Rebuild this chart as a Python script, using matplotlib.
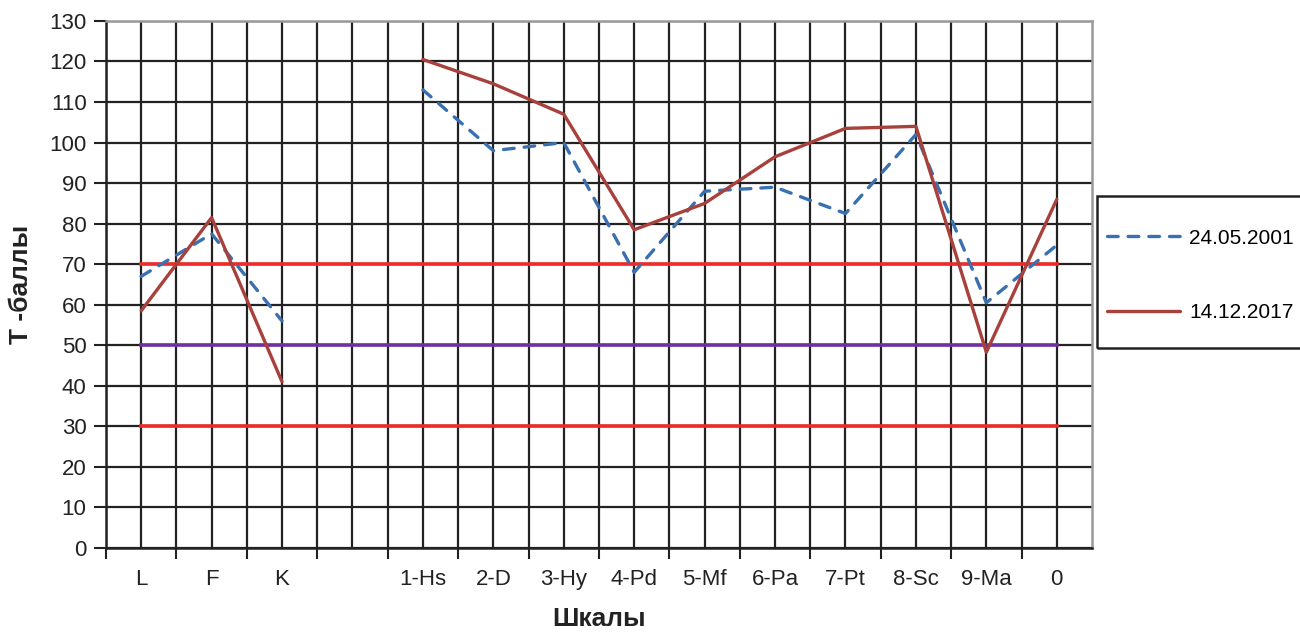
import numpy as np
import matplotlib.pyplot as plt
from matplotlib.patches import Rectangle
from matplotlib.ticker import FixedLocator, MultipleLocator

scales = ["L", "F", "K", "", "1-Hs", "2-D", "3-Hy", "4-Pd", "5-Mf", "6-Pa",
          "7-Pt", "8-Sc", "9-Ma", "0"]
t_2001 = [67, 77.5, 56, np.nan, 113, 98, 100, 68, 88, 89, 82.5, 102, 60.5, 74.7]
t_2017 = [58.5, 81.5, 41, np.nan, 120.5, 114.5, 107, 78.5, 85, 96.5, 103.5, 104, 48.3, 86]
upper_norm = 70
mid_norm = 50
lower_norm = 30

plt.rcParams['font.family'] = ['Liberation Sans', 'DejaVu Sans']

fig = plt.figure(figsize=(13, 6.35), dpi=100)
ax = fig.add_axes([0.0815, 0.137, 0.7585, 0.830])

x = np.arange(len(scales))

# horizontal norm lines
ax.plot([x[0], x[-1]], [upper_norm, upper_norm], color="#ee2a2a", lw=2.6, zorder=3)
ax.plot([x[0], x[-1]], [lower_norm, lower_norm], color="#ee2a2a", lw=2.6, zorder=3)
ax.plot([x[0], x[-1]], [mid_norm, mid_norm], color="#7030a0", lw=2.6, zorder=3)

ax.plot(x, t_2001, color="#3a70b0", lw=2.4, linestyle=(0, (3.2, 3.0)),
        dash_capstyle="round", label="24.05.2001", zorder=4)
ax.plot(x, t_2017, color="#a8403c", lw=2.4, solid_capstyle="round",
        label="14.12.2017", zorder=5)

ax.set_xlim(-0.5, len(scales) - 0.5)
ax.set_ylim(0, 130)

# ticks on category borders, labels on centers
ax.xaxis.set_major_locator(FixedLocator(np.arange(-0.5, len(scales) - 0.5, 1.0)))
ax.xaxis.set_minor_locator(FixedLocator(x))
ax.set_xticklabels([""] * len(scales))
ax.set_xticklabels(scales, minor=True)
ax.tick_params(axis="x", which="major", length=8, width=1.5, color="#222222")
ax.tick_params(axis="x", which="minor", length=0, pad=15, labelsize=16, labelcolor="#222222")
ax.yaxis.set_major_locator(MultipleLocator(10))
ax.tick_params(axis="y", length=9, width=1.5, color="#222222", labelsize=16,
               labelcolor="#222222", pad=5)

ax.grid(True, which="both", axis="x", color="#222222", lw=1.6)
ax.grid(True, which="major", axis="y", color="#222222", lw=1.6)
ax.set_axisbelow(True)

for side in ["left", "bottom"]:
    ax.spines[side].set_color("#222222")
    ax.spines[side].set_linewidth(1.8)
for side in ["top", "right"]:
    ax.spines[side].set_color("#999999")
    ax.spines[side].set_linewidth(1.8)

ax.set_xlabel("Шкалы", fontsize=19, fontweight="bold", labelpad=12, color="#222222")
ax.set_ylabel("Т -баллы", fontsize=19, fontweight="bold", labelpad=12, color="#222222")

# legend box drawn separately (taller than the default legend frame)
fig.patches.append(Rectangle((0.8438, 0.452), 0.17, 0.2394, transform=fig.transFigure,
                             fill=False, edgecolor="#222222", lw=1.8))
leg = fig.legend(loc="center left", bbox_to_anchor=(0.8515, 0.5665), fontsize=15,
                 frameon=False, handlelength=3.5, labelspacing=2.65,
                 borderpad=0, borderaxespad=0, handletextpad=0.45)

fig.savefig("out.png", dpi=100)
